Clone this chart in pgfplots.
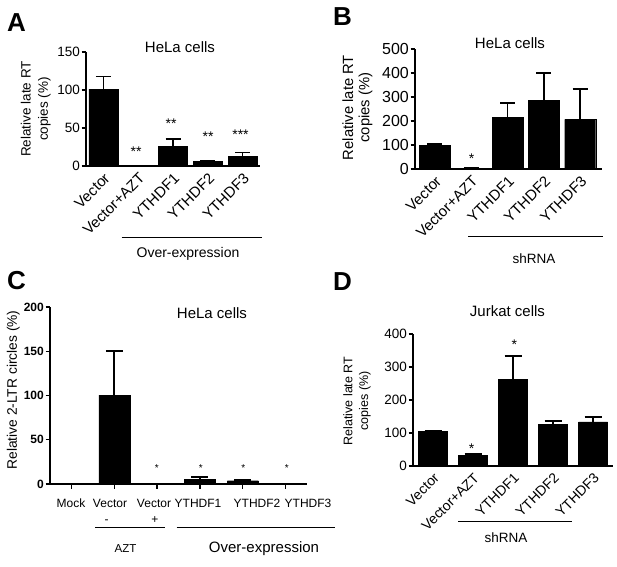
\documentclass[border=0pt]{standalone}
\usepackage{pgfplots}
\pgfplotsset{compat=1.18}
\usepackage{fontspec}
\setmainfont{Liberation Sans}
\newcommand{\fs}[1]{\fontsize{#1}{#1}\selectfont}
\pgfplotsset{gp/.style={scale only axis, anchor=south west, ybar, clip=false,
  axis x line*=bottom, axis y line*=left,
  axis line style={line width=1.3pt, black},
  ymin=0, enlargelimits=false, tick align=outside, major tick length=4.5pt,
  tick style={line width=1.3pt, black},
  /pgf/number format/assume math mode=true,
  yticklabel style={inner sep=1.5pt},
  xtick={0,...,5}},
  bars/.style={fill=black, draw=black, error bars/.cd, y dir=plus, y explicit,
  error mark=|,
  error bar style={line width=1.6pt, black},
  error mark options={line width=1.6pt, black, mark size=#1}},
  bars/.default=7.5pt}
\begin{document}
\begin{tikzpicture}[x=1pt,y=1pt]
\path[use as bounding box] (0,0) rectangle (617,566);
% ---------------- Panel A
\begin{axis}[gp, at={(86pt,400pt)}, width=174pt, height=114pt,
  xmin=-0.5, xmax=4.5, ymax=150, ytick={0,50,100,150},
  x tick style={draw=none}, bar width=29pt,
  xticklabels={Vector,Vector+AZT,YTHDF1,YTHDF2,YTHDF3},
  xticklabel style={rotate=45, anchor=north east, font=\fs{15}, inner sep=1pt},
  yticklabel style={font=\fs{13.5}}]
\addplot[bars] coordinates {(0,101) +- (0,17) (1,0) +- (0,0) (2,26) +- (0,9.5) (3,5.7) +- (0,0.8) (4,13) +- (0,5)};
\end{axis}
% ---------------- Panel B
\begin{axis}[gp, at={(415pt,397pt)}, width=187pt, height=120pt,
  xmin=-0.55, xmax=4.6, ymax=500, ytick={0,100,...,500},
  x tick style={draw=none}, bar width=31pt,
  xticklabels={Vector,Vector+AZT,YTHDF1,YTHDF2,YTHDF3},
  xticklabel style={rotate=45, anchor=north east, font=\fs{15}, inner sep=1pt},
  yticklabel style={font=\fs{16}}]
\addplot[bars] coordinates {(0,100) +- (0,4) (1,4) +- (0,1) (2,214) +- (0,62) (3,287) +- (0,112) (4,207) +- (0,126)};
\end{axis}
% ---------------- Panel C
\begin{axis}[gp, at={(50pt,82pt)}, width=257pt, height=177pt,
  xmin=-0.5, xmax=5.5, ymax=200, ytick={0,50,...,200},
  bar width=31pt, xticklabels={},
  yticklabel style={font=\bfseries\fs{12}}]
\addplot[bars=8.5pt] coordinates {(0,0) +- (0,0) (1,100.5) +- (0,49.5) (2,0) +- (0,0) (3,5) +- (0,3) (4,3.7) +- (0,0.8) (5,0) +- (0,0)};
\end{axis}
% ---------------- Panel D
\begin{axis}[gp, at={(413pt,100pt)}, width=200pt, height=132pt,
  xmin=-0.5, xmax=4.5, ymax=400, ytick={0,100,...,400},
  x tick style={draw=none}, bar width=29pt,
  xticklabels={Vector,Vector+AZT,YTHDF1,YTHDF2,YTHDF3},
  xticklabel style={rotate=45, anchor=north east, font=\fs{14}, inner sep=1pt},
  yticklabel style={font=\fs{13.5}}]
\addplot[bars=8.5pt] coordinates {(0,104) +- (0,3) (1,33) +- (0,3) (2,263) +- (0,71) (3,126) +- (0,10) (4,134) +- (0,14)};
\end{axis}
% ---------------- annotations
% panel letters
\node[anchor=base west, inner sep=0, font=\bfseries\fs{26}] at (7,534) {A};
\node[anchor=base west, inner sep=0, font=\bfseries\fs{26}] at (333,540) {B};
\node[anchor=base west, inner sep=0, font=\bfseries\fs{26}] at (7,277) {C};
\node[anchor=base west, inner sep=0, font=\bfseries\fs{26}] at (333,276) {D};
% titles
\node[anchor=base, inner sep=0, font=\fs{15}] at (180,513.6) {HeLa cells};
\node[anchor=base, inner sep=0, font=\fs{15}] at (510,517.6) {HeLa cells};
\node[anchor=base, inner sep=0, font=\fs{15}] at (212,248) {HeLa cells};
\node[anchor=base, inner sep=0, font=\fs{15}] at (507.5,249.5) {Jurkat cells};
% y labels
\node[rotate=90, anchor=base, inner sep=0, font=\fs{13.5}] at (30.7,457) {Relative late RT};
\node[rotate=90, anchor=base, inner sep=0, font=\fs{13.5}] at (47.9,457) {copies (\%)};
\node[rotate=90, anchor=base, inner sep=0, font=\fs{14.8}] at (353,458.5) {Relative late RT};
\node[rotate=90, anchor=base, inner sep=0, font=\fs{14.8}] at (369.3,458.5) {copies (\%)};
\node[rotate=90, anchor=base, inner sep=0, font=\fs{13.8}] at (17,176) {Relative 2-LTR circles (\%)};
\node[rotate=90, anchor=base, inner sep=0, font=\fs{12.5}] at (352.3,165) {Relative late RT};
\node[rotate=90, anchor=base, inner sep=0, font=\fs{12.5}] at (368,165) {copies (\%)};
% group lines and labels
\draw[line width=0.8pt] (121.7,328.3) -- (261.7,328.3);
\node[anchor=base, inner sep=0, font=\fs{14}] at (188,309) {Over-expression};
\draw[line width=0.8pt] (468,330) -- (603,330);
\node[anchor=base, inner sep=0, font=\fs{13.5}] at (534,303) {shRNA};
\draw[line width=0.8pt] (95,38.7) -- (165,38.7);
\draw[line width=0.8pt] (176.7,38.7) -- (335,38.7);
\node[anchor=base, inner sep=0, font=\fs{11.5}] at (125.5,14) {AZT};
\node[anchor=base, inner sep=0, font=\fs{15}] at (264,14) {Over-expression};
\draw[line width=0.8pt] (458,45) -- (572,45);
\node[anchor=base, inner sep=0, font=\fs{13.5}] at (506,24) {shRNA};
% panel C category labels
\node[anchor=base, inner sep=0, font=\fs{12}] at (71,59) {Mock};
\node[anchor=base, inner sep=0, font=\fs{12}] at (110,59) {Vector};
\node[anchor=base, inner sep=0, font=\fs{12}] at (154,59) {Vector};
\node[anchor=base, inner sep=0, font=\fs{12}] at (198,59) {YTHDF1};
\node[anchor=base, inner sep=0, font=\fs{12}] at (257,59) {YTHDF2};
\node[anchor=base, inner sep=0, font=\fs{12}] at (308,59) {YTHDF3};
\node[anchor=base, inner sep=0, font=\fs{12}] at (106.7,43) {-};
\node[anchor=base, inner sep=0, font=\fs{12}] at (155,43) {+};
% significance stars
\node[anchor=base, inner sep=0, font=\fs{14}] at (136,409.7) {**};
\node[anchor=base, inner sep=0, font=\fs{14}] at (171,438) {**};
\node[anchor=base, inner sep=0, font=\fs{14}] at (208,424.7) {**};
\node[anchor=base, inner sep=0, font=\fs{14}] at (240.5,426.3) {***};
\node[anchor=base, inner sep=0, font=\fs{14}] at (471.7,403) {*};
\node[anchor=base, inner sep=0, font=\fs{10}] at (156.7,94.5) {*};
\node[anchor=base, inner sep=0, font=\fs{10}] at (200.7,94.5) {*};
\node[anchor=base, inner sep=0, font=\fs{10}] at (243.3,94.5) {*};
\node[anchor=base, inner sep=0, font=\fs{10}] at (286.7,94.5) {*};
\node[anchor=base, inner sep=0, font=\fs{14}] at (471.7,113) {*};
\node[anchor=base, inner sep=0, font=\fs{14}] at (514.3,216.3) {*};
\end{tikzpicture}
\end{document}
